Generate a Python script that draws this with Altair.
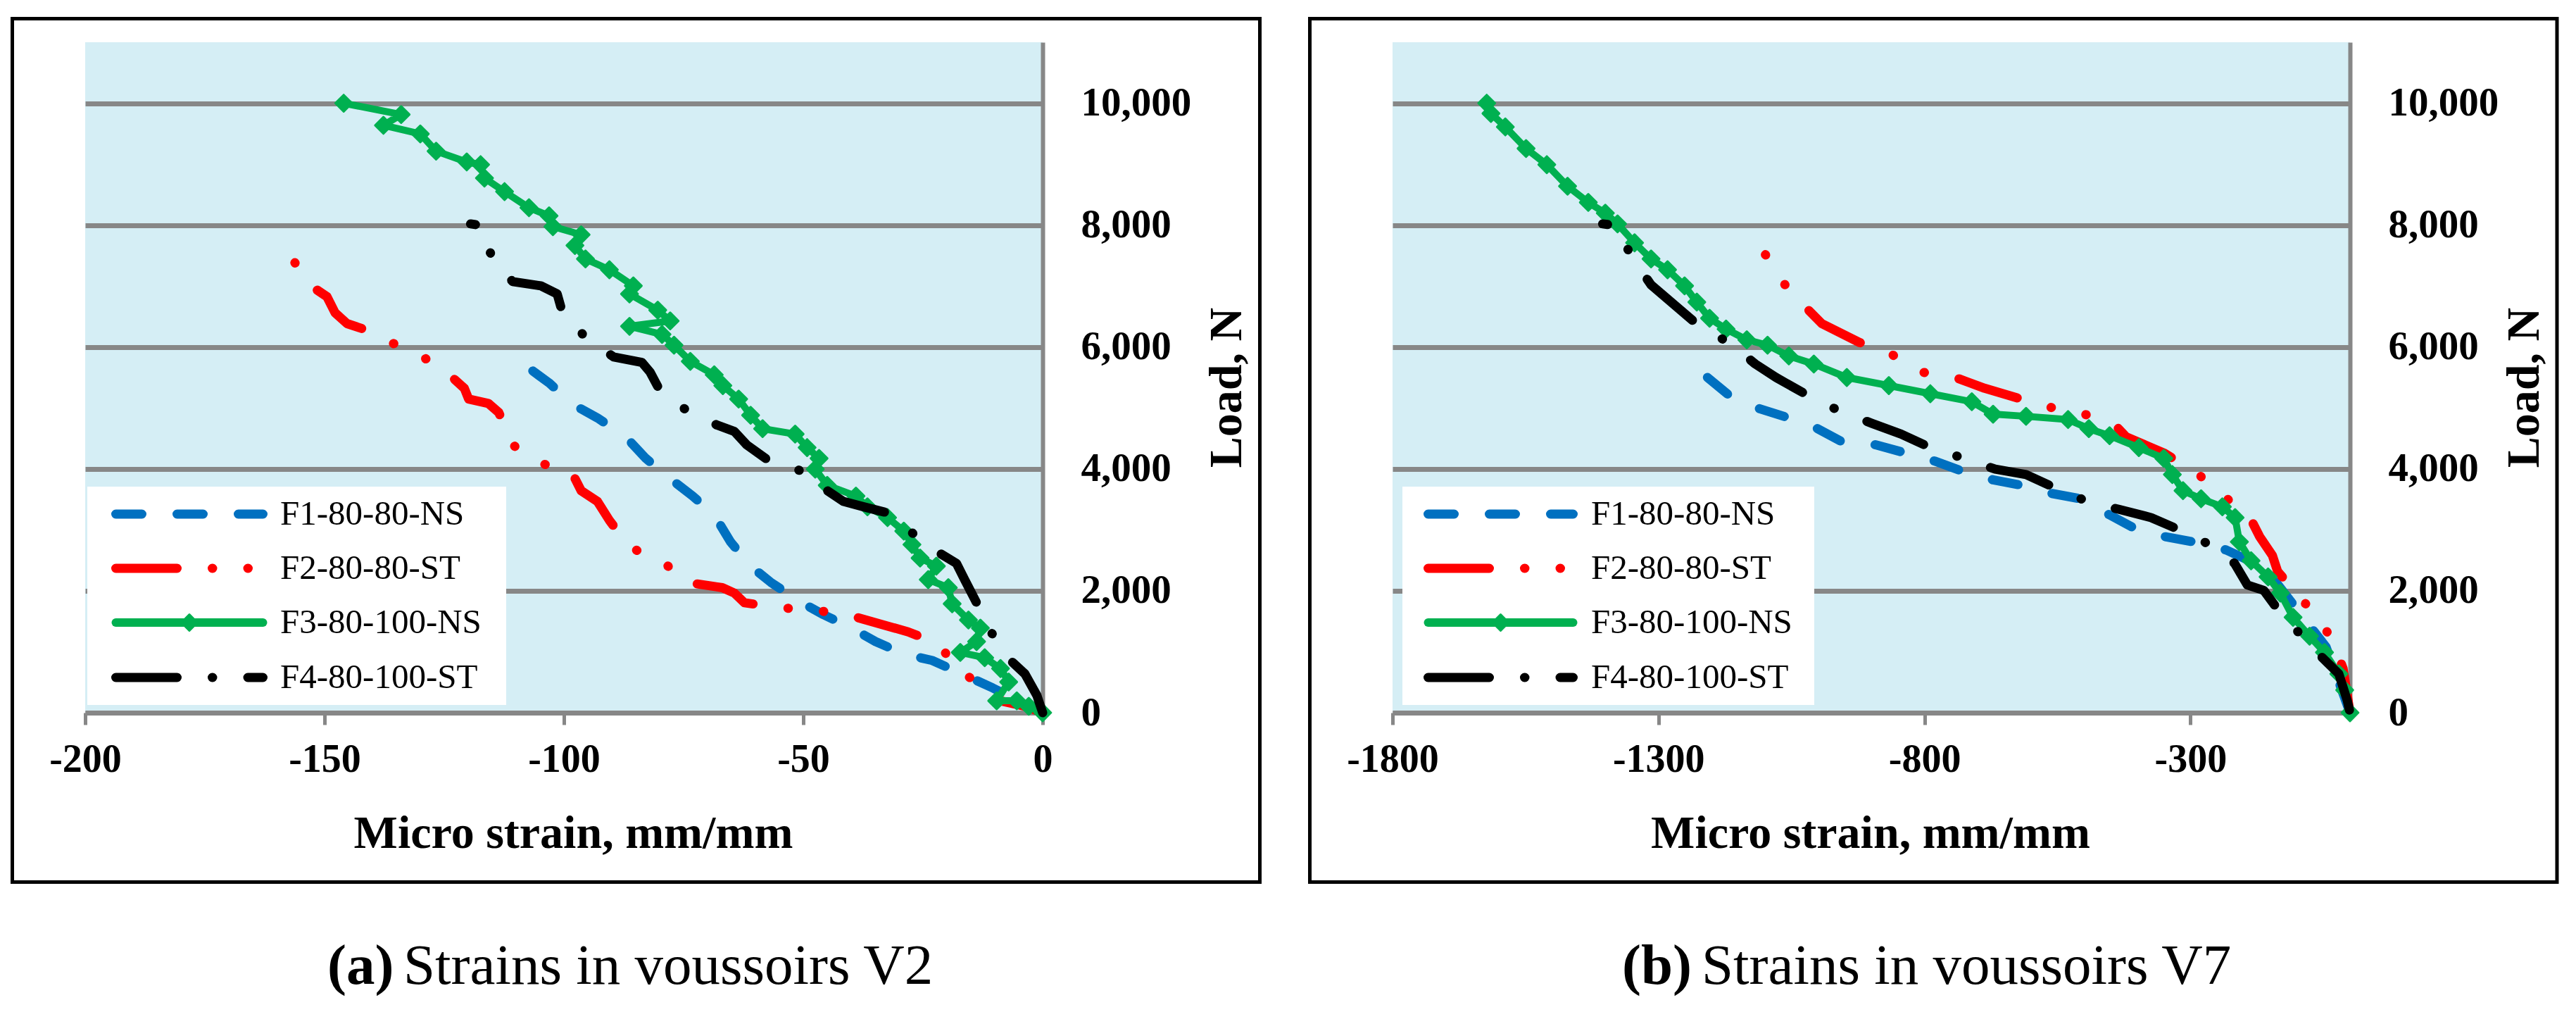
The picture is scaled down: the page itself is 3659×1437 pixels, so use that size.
import altair as alt
import pandas as pd

FONT = "Liberation Serif"
SERIES = ["F1-80-80-NS", "F2-80-80-ST", "F3-80-100-NS", "F4-80-100-ST"]
COLORS = ["#0070C0", "#FF0000", "#00B050", "#000000"]
GRID = "#878787"
BG = "#D5EEF5"

Y_TICKS = [0, 2000, 4000, 6000, 8000, 10000]
A_X_TICKS = [-200, -150, -100, -50, 0]
B_X_TICKS = [-1800, -1300, -800, -300]

# ---------------- (a) Strains in voussoirs V2 ----------------
a_f1_x = [-106.5, -103.1, -98.1, -93.0, -87.1, -82.9, -78.2, -73.1, -68.6, -65.2, -61.0,
          -56.8, -50.9, -45.8, -39.9, -34.9, -29.0, -23.1, -16.8, -10.4, 0.0]
a_f1_y = [5606, 5411, 5057, 4836, 4527, 4173, 3864, 3554, 3245, 2803, 2405,
          2140, 1830, 1609, 1388, 1167, 964, 858, 636, 405, 0]

a_f2_x = [-156.2, -152.0, -149.5, -147.8, -145.3, -141.9, -135.6, -128.9, -123.3, -120.8,
          -119.9, -115.8, -113.6, -110.7, -105.3, -98.4, -96.4, -93.0, -90.5, -86.3,
          -79.5, -74.5, -66.9, -64.4, -62.3, -55.1, -47.5, -40.8, -28.1, -21.4,
          -18.0, -12.1, -8.8, -3.7, 0.0]
a_f2_y = [7383, 6958, 6826, 6561, 6384, 6295, 6057, 5809, 5500, 5323,
          5146, 5075, 4925, 4394, 4103, 3952, 3643, 3466, 3156, 2714,
          2493, 2140, 2051, 1963, 1804, 1724, 1680, 1609, 1326, 1123,
          681, 460, 195, 106, 0]

a_f3_x = [-146.0, -134.0, -137.7, -130.0, -126.7, -120.3, -117.4, -116.6, -112.4, -107.3,
          -103.1, -102.3, -96.4, -97.7, -95.5, -90.5, -85.5, -86.3, -80.4, -77.8,
          -86.3, -79.5, -77.0, -73.6, -68.6, -66.8, -63.5, -61.0, -58.5, -51.7,
          -49.2, -46.7, -47.5, -45.0, -39.0, -36.6, -32.4, -29.0, -27.3, -25.6,
          -22.2, -23.9, -19.7, -18.9, -15.5, -13.0, -13.8, -17.2, -12.1, -8.8,
          -7.1, -9.6, -5.4, -2.9, 0.0]
a_f3_y = [10000, 9814, 9637, 9496, 9213, 9036, 8992, 8771, 8550, 8285,
          8152, 7975, 7842, 7666, 7445, 7268, 7003, 6870, 6605, 6428,
          6340, 6207, 6030, 5765, 5544, 5367, 5146, 4881, 4660, 4571,
          4350, 4173, 3996, 3731, 3554, 3378, 3201, 2980, 2759, 2538,
          2405, 2184, 2051, 1786, 1521, 1388, 1167, 990, 902, 725,
          504, 195, 195, 106, 0]

a_f4_x = [-119.5, -117.1, -114.9, -110.7, -104.8, -101.4, -100.3, -95.2, -89.6, -83.7,
          -82.0, -79.9, -74.5, -68.1, -64.4, -61.8, -57.6, -50.9, -45.3, -41.6,
          -37.4, -32.9, -27.3, -21.7, -18.0, -16.3, -13.8, -10.8, -7.1, -3.7,
          -1.2, 0.0]
a_f4_y = [8020, 7993, 7427, 7073, 7003, 6870, 6560, 6136, 5836, 5747,
          5588, 5279, 4969, 4722, 4615, 4394, 4156, 3979, 3660, 3466,
          3378, 3289, 2953, 2626, 2449, 2184, 1804, 1326, 884, 637,
          283, 0]

# ---------------- (b) Strains in voussoirs V7 ----------------
b_f1_x = [-1208, -1165, -1110, -1055, -1001, -954, -891, -836, -781, -726, -671, -617,
          -562, -507, -452, -405, -350, -295, -233, -178, -139, -92, -45, 0]
b_f1_y = [5500, 5190, 4987, 4836, 4660, 4439, 4394, 4262, 4129, 3952, 3820, 3731,
          3599, 3510, 3245, 3024, 2891, 2803, 2670, 2449, 2140, 1609, 1079, 0]

b_f2_x = [-1099, -1063, -1021, -993, -922, -860, -805, -742, -687, -625, -565, -499, -440,
          -421, -350, -287, -240, -189, -170, -146, -136, -95, -52, -26, -13, 0]
b_f2_y = [7515, 7029, 6631, 6384, 6074, 5871, 5588, 5500, 5323, 5164, 5013, 4898, 4704,
          4527, 4262, 3926, 3572, 3218, 2891, 2582, 2317, 1901, 1477, 1034, 725, 0]

b_f3_x = [-1623, -1615, -1588, -1549, -1510, -1471, -1432, -1400, -1377, -1345,
          -1314, -1283, -1251, -1228, -1204, -1173, -1134, -1095, -1055, -1008,
          -946, -867, -789, -711, -671, -609, -530, -491, -452, -397,
          -350, -334, -314, -280, -240, -216, -208, -186, -154, -131,
          -107, -76, -48, -21, -10, 0]
b_f3_y = [10000, 9832, 9611, 9257, 8992, 8638, 8373, 8196, 8020, 7710,
          7445, 7268, 7003, 6737, 6472, 6295, 6118, 6030, 5853, 5721,
          5500, 5367, 5234, 5102, 4898, 4863, 4810, 4660, 4545, 4350,
          4173, 3908, 3643, 3510, 3378, 3201, 2803, 2493, 2228, 1963,
          1565, 1256, 990, 637, 371, 0]

b_f4_x = [-1405, -1380, -1350, -1314, -1223, -1168, -1118, -1079, -1016, -960,
          -899, -844, -789, -726, -667, -609, -554, -494, -433, -374,
          -327, -264, -217, -193, -162, -136, -95, -52, -21, -5, 0]
b_f4_y = [8020, 7993, 7471, 7020, 6340, 6074, 5721, 5500, 5190, 4951,
          4748, 4571, 4350, 4173, 3996, 3908, 3687, 3466, 3333, 3201,
          3024, 2759, 2449, 2096, 2007, 1698, 1300, 902, 637, 195, 0]

DASHES = {0: [37, 50], 1: [87, 50, 0.5, 50, 0.5, 50], 3: [87, 50, 0.5, 50]}
W, H = 1360, 952
LEG_ROWS = [670, 747, 824, 902]


def one():
    return alt.Data(values=[{"k": 0}])


def panel(series_xy, xdom, xticks, xtitle_x, ytitle_x, f2_offset, border, leg, cap):
    rows = []
    for s, (xs, ys) in zip(SERIES, series_xy):
        assert len(xs) == len(ys), s
        for i, (xv, yv) in enumerate(zip(xs, ys)):
            rows.append({"s": s, "x": xv, "y": yv, "i": i})
    df = pd.DataFrame(rows)

    x_enc = alt.X(
        "x:Q",
        scale=alt.Scale(domain=xdom, nice=False, zero=False),
        axis=alt.Axis(
            values=xticks, labelExpr="'' + datum.value", grid=False,
            domainColor=GRID, domainWidth=6, tickColor=GRID, tickWidth=5, tickSize=17,
            labelFont=FONT, labelFontSize=56, labelFontWeight="bold", labelColor="black",
            labelPadding=22, labelFlush=False, labelOverlap=False,
            title="Micro strain, mm/mm", titleFont=FONT, titleFontSize=66,
            titleFontWeight="bold", titleColor="black", titleX=xtitle_x, titleY=191,
            titleAlign="center", titleBaseline="alphabetic", zindex=0,
        ),
    )
    y_enc = alt.Y(
        "y:Q",
        scale=alt.Scale(domain=[0, 11000], nice=False, zero=False),
        axis=alt.Axis(
            orient="right", values=Y_TICKS, format=",d", grid=True, gridColor=GRID,
            gridWidth=7, gridOpacity=1, ticks=False, tickSize=0,
            domainColor=GRID, domainWidth=6,
            labelFont=FONT, labelFontSize=57, labelFontWeight="bold", labelColor="black",
            labelPadding=54, labelAlign="left", labelBaseline="middle",
            title="Load, N", titleFont=FONT, titleFontSize=66, titleFontWeight="bold",
            titleColor="black", titleAngle=270, titleAlign="center",
            titleBaseline="alphabetic", titleX=ytitle_x, titleY=490, zindex=0,
        ),
    )

    base = alt.Chart(df)
    layers = []
    offsets = [0, f2_offset, 0, 80]
    for k, s in enumerate(SERIES):
        if k == 2:
            mk = base.mark_line(color=COLORS[k], strokeWidth=10, strokeJoin="round",
                                strokeCap="round")
        else:
            mk = base.mark_line(color=COLORS[k], strokeWidth=13, strokeDash=DASHES[k],
                                strokeDashOffset=offsets[k], strokeCap="round",
                                strokeJoin="round")
        layers.append(mk.transform_filter(alt.datum.s == s)
                      .encode(x=x_enc, y=y_enc, order="i:Q"))
        if k == 2:
            layers.append(
                base.mark_point(shape="diamond", filled=True, fill=COLORS[k],
                                stroke=COLORS[k], strokeWidth=3, strokeJoin="round",
                                size=560, opacity=1)
                .transform_filter(alt.datum.s == s)
                .encode(x=x_enc, y=y_enc)
            )

    # legend box
    bx1, bx2, sx1, sx2, tx = leg
    layers.append(
        alt.Chart(one()).mark_rect(fill="white", strokeWidth=0)
        .encode(x=alt.value(bx1), x2=alt.value(bx2), y=alt.value(631), y2=alt.value(941))
    )
    for k, s in enumerate(SERIES):
        yk = LEG_ROWS[k]
        if k == 2:
            rl = alt.Chart(one()).mark_rule(color=COLORS[k], strokeWidth=12, strokeCap="round")
        else:
            rl = alt.Chart(one()).mark_rule(color=COLORS[k], strokeWidth=13,
                                            strokeDash=DASHES[k], strokeCap="round")
        layers.append(rl.encode(x=alt.value(sx1), x2=alt.value(sx2), y=alt.value(yk)))
        if k == 2:
            layers.append(
                alt.Chart(one()).mark_point(shape="diamond", filled=True, fill=COLORS[k],
                                            stroke=COLORS[k], strokeWidth=3,
                                            strokeJoin="round", size=520, opacity=1)
                .encode(x=alt.value((sx1 + sx2) / 2), y=alt.value(yk))
            )
        layers.append(
            alt.Chart(one()).mark_text(text=s, font=FONT, fontSize=49, color="black",
                                       align="left", baseline="middle")
            .encode(x=alt.value(tx), y=alt.value(yk))
        )

    # panel frame
    fx1, fx2 = border
    layers.append(
        alt.Chart(one()).mark_rect(fillOpacity=0, stroke="black", strokeWidth=5)
        .encode(x=alt.value(fx1), x2=alt.value(fx2), y=alt.value(-33.5), y2=alt.value(1192.5))
    )

    # caption
    letter, lx, rest, rx = cap
    layers.append(
        alt.Chart(one()).mark_text(text=letter, font=FONT, fontSize=81, fontWeight="bold",
                                   color="black", align="left", baseline="alphabetic")
        .encode(x=alt.value(lx), y=alt.value(1337))
    )
    layers.append(
        alt.Chart(one()).mark_text(text=rest, font=FONT, fontSize=81, color="black",
                                   align="left", baseline="alphabetic")
        .encode(x=alt.value(rx), y=alt.value(1337))
    )
    return alt.layer(*layers).properties(width=W, height=H)


pa = panel(
    [(a_f1_x, a_f1_y), (a_f2_x, a_f2_y), (a_f3_x, a_f3_y), (a_f4_x, a_f4_y)],
    [-200, 0], A_X_TICKS, 693, 281, 187.5,
    (-103.5, 1668.5),
    (3, 598, 43.5, 252.5, 277),
    ("(a)", 344, "Strains in voussoirs V2", 452),
)
pb = panel(
    [(b_f1_x, b_f1_y), (b_f2_x, b_f2_y), (b_f3_x, b_f3_y), (b_f4_x, b_f4_y)],
    [-1800, 0], B_X_TICKS, 678.5, 267, 137,
    (-117.5, 1654),
    (14, 599, 50.5, 256.5, 282),
    ("(b)", 326, "Strains in voussoirs V7", 439),
)

chart = (
    alt.hconcat(pa, pb, spacing=66)
    .properties(padding={"left": 7, "top": 16, "right": 5, "bottom": 5}, background="white")
    .configure_view(fill=BG, strokeWidth=0)
)

chart.save("out.html", embed_options={"renderer": "svg", "actions": False})
